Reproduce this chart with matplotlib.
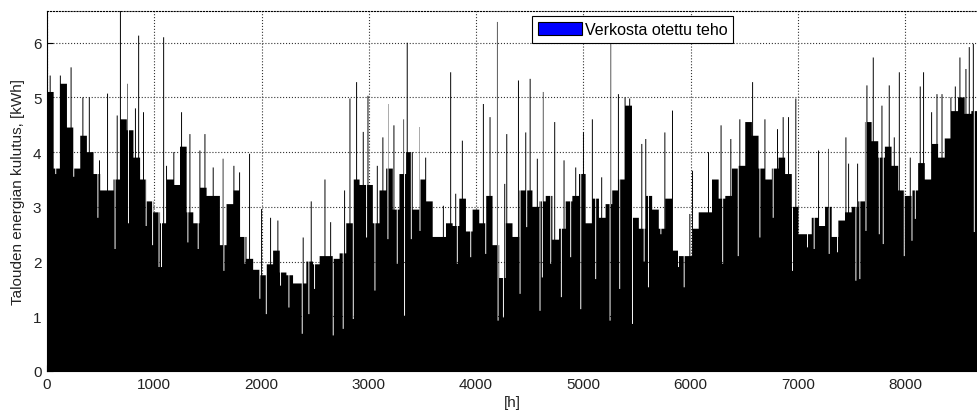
import numpy as np
import matplotlib.pyplot as plt
from matplotlib.patches import Patch

plt.rcParams['font.family'] = ['Liberation Sans', 'DejaVu Sans']

# hourly consumption: level of the dense part per 62 h block
block_hours = 62
base_level = [
    5.1, 3.7, 5.25, 4.45, 3.7, 4.3, 4.0, 3.6, 3.3, 3.3, 3.5, 4.6, 4.4, 3.9, 3.5, 3.1, 2.9,
    2.7, 3.5, 3.4, 4.1, 2.9, 2.7, 3.35, 3.2, 3.2, 2.3, 3.05, 3.3, 2.45, 2.05, 1.85, 1.75, 1.95, 2.2,
    1.8, 1.75, 1.6, 1.6, 2.0, 1.95, 2.1, 2.1, 2.05, 2.15, 2.7, 3.5, 3.4, 3.4, 2.7, 3.3, 3.7, 2.95,
    3.6, 4.0, 2.95, 3.5, 3.1, 2.45, 2.45, 2.7, 2.65, 3.15, 2.55, 2.95, 2.7, 3.2, 2.3, 1.7, 2.7, 2.45,
    3.3, 3.3, 3.0, 3.1, 3.2, 2.4, 2.6, 3.1, 3.2, 3.6, 2.7, 3.15, 2.8, 3.05, 3.3, 3.5, 4.85, 2.8,
    2.6, 3.2, 2.95, 2.6, 3.15, 2.2, 2.1, 2.1, 2.6, 2.9, 2.9, 3.5, 3.15, 3.2, 3.7, 3.75, 4.55, 4.3,
    3.7, 3.5, 3.7, 3.9, 3.6, 3.0, 2.5, 2.5, 2.8, 2.65, 3.0, 2.45, 2.75, 2.9, 3.0,
    3.1, 4.55, 4.2, 3.9, 4.1, 3.75, 3.3, 3.2, 3.3, 3.8, 3.5, 4.15, 3.9, 4.25, 4.75, 5.0, 4.7, 4.75,
]

# single high hours
spike_hour = [25, 120, 220, 330, 390, 485, 560, 650, 680, 750, 820, 850, 895, 1083, 1110,
              1178, 1250, 1328, 1421, 1468, 1545, 1638, 1738, 1791, 1884, 1996, 2080, 2148, 2251,
              2384, 2459, 2587, 2640, 2770, 2820, 2882, 2944, 2988, 3075, 3127, 3177, 3230, 3323, 3354,
              3470, 3526, 3691, 3759, 3806, 3868, 4064, 4126, 4195, 4263, 4282, 4391, 4459, 4500,
              4567, 4620, 4729, 4816, 4925, 4997, 5080, 5167, 5251, 5323, 5385, 5428, 5578,
              5541, 5756, 5827, 5989, 6014, 6163, 6280, 6371, 6455, 6574, 6689,
              6806, 6859, 6909, 6977, 7189, 7282, 7444, 7469, 7553, 7640, 7699, 7780, 7848,
              7895, 7942, 8044, 8137, 8168, 8243, 8293, 8340, 8423, 8464, 8507, 8563, 8594, 8632]
spike_value = [5.4, 5.4, 5.55, 5.0, 5.0, 3.85, 5.07, 4.67, 6.58, 5.25, 4.8, 6.13, 4.73, 6.1, 3.75,
               4.0, 4.73, 4.33, 4.03, 4.33, 3.72, 3.88, 3.75, 3.63, 3.97, 2.96, 2.8, 2.75, 2.93,
               2.44, 3.1, 3.5, 2.72, 3.3, 4.98, 5.28, 4.37, 5.03, 3.75, 4.27, 4.88, 4.49, 4.6, 6.0,
               4.46, 3.9, 3.02, 5.46, 3.24, 4.21, 4.88, 4.64, 6.38, 3.42, 4.33, 5.31, 4.36, 5.34,
               3.88, 5.1, 4.55, 3.85, 3.72, 4.36, 4.6, 3.54, 5.98, 5.06, 5.0, 4.98, 4.24,
               4.15, 4.36, 4.76, 2.87, 3.66, 4.0, 4.49, 4.24, 4.6, 5.28, 4.6,
               4.42, 4.64, 4.64, 4.98, 4.03, 4.06, 4.27, 3.79, 3.79, 5.22, 5.73, 4.85, 5.22,
               4.27, 5.46, 3.9, 5.2, 5.46, 4.73, 5.06, 5.06, 5.0, 5.2, 5.73, 5.52, 5.92, 5.98]

# single low hours
dip_hour = [77, 245, 470, 630, 755, 920, 980, 1040, 1063, 1309, 1405, 1645, 1841, 1980, 2040,
            2173, 2251, 2375, 2437, 2490, 2664, 2757, 2851, 2975, 3053, 3174, 3261, 3329, 3392,
            3473, 3821, 3946, 4086, 4201, 4251, 4406, 4468, 4592, 4614, 4692, 4791, 4878, 4972,
            5111, 5245, 5335, 5454, 5563, 5603, 5719, 5883, 5936, 6295, 6440, 6642, 6766, 6946,
            7086, 7148, 7288, 7366, 7537, 7574, 7631, 7755, 7792, 7988, 8060, 8091, 8641]
dip_value = [3.6, 3.55, 2.8, 2.23, 2.7, 2.65, 2.3, 1.9, 1.9, 2.35, 2.23, 1.83, 1.96, 1.32, 1.04,
             1.56, 1.16, 0.68, 1.04, 1.5, 0.65, 0.77, 0.95, 2.44, 1.47, 2.41, 1.96, 1.01, 2.41,
             2.56, 1.96, 2.08, 2.14, 0.92, 0.98, 1.41, 2.63, 1.1, 1.71, 1.96, 1.35, 2.08, 1.13,
             1.68, 0.92, 1.5, 0.86, 2.0, 1.53, 2.5, 1.9, 1.53, 1.96, 2.1, 2.44, 2.8, 1.83,
             2.26, 2.23, 2.14, 2.17, 1.65, 1.68, 2.56, 2.5, 2.32, 2.1, 2.38, 2.78, 2.54]

hourly = np.repeat(np.array(base_level, dtype=float), block_hours)
for h, v in zip(spike_hour, spike_value):
    hourly[h:h + 9] = v
for h, v in zip(dip_hour, dip_value):
    hourly[h:h + 9] = v
edges = np.arange(len(hourly) + 1)

fig = plt.figure(figsize=(9.78, 4.14), dpi=100)
ax = fig.add_axes([47 / 978, 42 / 414, 931 / 978, 360 / 414])
ax.stairs(hourly, edges, fill=True, color='k', linewidth=0)

ax.set_xlim(0, len(hourly))
ax.set_ylim(0, 6.58)
ax.set_xticks(np.arange(0, 9000, 1000))
ax.set_yticks(np.arange(0, 7, 1))
ax.set_axisbelow(True)
ax.grid(True, linestyle=':', color='#333333', linewidth=0.8)
ax.tick_params(direction='in', length=4, labelsize=11, pad=4, labelcolor='#222222')
ax.spines['right'].set_visible(False)
ax.spines['top'].set_linestyle(':')
ax.spines['top'].set_linewidth(0.8)

ax.set_xlabel('[h]', fontsize=11, labelpad=3, color='#222222')
ax.set_ylabel('Talouden energian kulutus, [kWh]', fontsize=11, labelpad=6, color='#222222')

handle = Patch(facecolor='#0000ff', edgecolor='k', linewidth=0.8)
leg = fig.legend([handle], ['Verkosta otettu teho'], loc='upper left',
                 bbox_to_anchor=(532 / 978, 1 - 17 / 414), bbox_transform=fig.transFigure,
                 borderaxespad=0, fancybox=False, framealpha=1, fontsize=11.5,
                 handlelength=2.8, handleheight=0.95, handletextpad=0.15,
                 borderpad=0.35, edgecolor='k')
leg.get_frame().set_linewidth(0.8)

fig.savefig('out.png', dpi=100)
